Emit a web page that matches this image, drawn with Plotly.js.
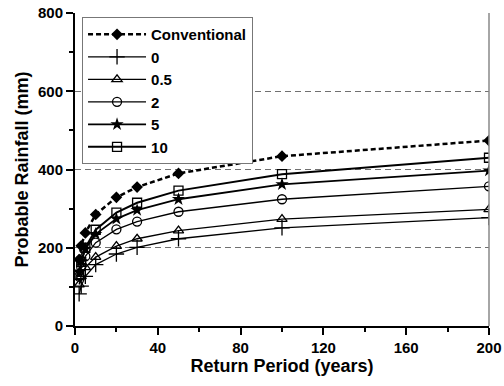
<!DOCTYPE html>
<html>
<head>
<meta charset="utf-8">
<script src="https://cdn.plot.ly/plotly-3.0.1.min.js"></script>
<style>
  html, body { margin: 0; padding: 0; background: #fff; }
  #chart { width: 504px; height: 386px; }
</style>
</head>
<body>
<div id="chart"></div>
<script>
// Return periods (years) at which probable rainfall was computed
const returnPeriods = [2, 3, 5, 10, 20, 30, 50, 100, 200];

// Probable rainfall (mm) for each series
const seriesNames = ["Conventional", "0", "0.5", "2", "5", "10"];
const conventional = [170, 205, 238, 285, 329, 355, 390, 434, 474];
const s0   = [82, 102, 127, 157, 184, 201, 223, 251, 277];
const s05  = [106, 127, 150, 176, 204, 223, 244, 273, 298];
const s2   = [126, 151, 178, 213, 247, 267, 292, 324, 357];
const s5   = [137, 165, 197, 235, 274, 296, 324, 362, 397];
const s10  = [131, 164, 200, 246, 290, 315, 346, 388, 430];

const yTicks = [0, 200, 400, 600, 800];
const xTicks = [0, 40, 80, 120, 160, 200];

const font = "Liberation Sans, Arial, sans-serif";

function series(name, y, symbol, opts) {
  return {
    x: returnPeriods,
    y: y,
    name: name,
    type: "scatter",
    mode: "lines+markers",
    line: Object.assign({ color: "#000", width: 1.3 }, opts.line || {}),
    marker: Object.assign({
      symbol: symbol,
      size: 9,
      color: "#000",
      line: { color: "#000", width: 1.3 }
    }, opts.marker || {})
  };
}

const traces = [
  series(seriesNames[0], conventional, "diamond",
    { line: { width: 2.5, dash: "5px,3px" }, marker: { size: 9, line: { width: 0 } } }),
  series(seriesNames[1], s0, "cross-thin-open", { marker: { size: 11 } }),
  series(seriesNames[2], s05, "triangle-up-open", { marker: { size: 9 } }),
  series(seriesNames[3], s2, "circle-open", { marker: { size: 9 } }),
  series(seriesNames[4], s5, "star", { line: { width: 1.8 }, marker: { size: 10, line: { width: 0 } } }),
  series(seriesNames[5], s10, "square-open", { line: { width: 2 }, marker: { size: 9 } })
];

const layout = {
  width: 504,
  height: 386,
  margin: { l: 75, r: 15, t: 13, b: 60 },
  paper_bgcolor: "#fff",
  plot_bgcolor: "#fff",
  font: { family: font, color: "#000", size: 15, weight: "bold" },
  showlegend: true,
  legend: {
    x: 0.017, y: 0.987, xanchor: "left", yanchor: "top",
    bgcolor: "#fff",
    bordercolor: "#777",
    borderwidth: 1,
    font: { family: font, size: 15, weight: "bold", color: "#000" },
    tracegroupgap: 0,
    itemwidth: 58
  },
  xaxis: {
    range: [0, 200],
    tickvals: xTicks,
    ticktext: xTicks.map(String),
    ticks: "outside",
    ticklen: 7,
    tickwidth: 2,
    tickcolor: "#000",
    minor: { dtick: 20, tick0: 0, ticks: "outside", ticklen: 4, tickwidth: 2, tickcolor: "#000" },
    showline: true,
    linecolor: "#000",
    linewidth: 2,
    showgrid: false,
    zeroline: false,
    tickfont: { family: font, size: 15, weight: "bold" },
    title: { text: "Return Period (years)", font: { family: font, size: 18, weight: "bold" }, standoff: 4 }
  },
  yaxis: {
    range: [0, 800],
    tickvals: yTicks,
    ticktext: yTicks.map(String),
    ticks: "outside",
    ticklen: 7,
    tickwidth: 2,
    tickcolor: "#000",
    minor: { dtick: 100, tick0: 0, ticks: "outside", ticklen: 4, tickwidth: 2, tickcolor: "#000" },
    showline: true,
    linecolor: "#000",
    linewidth: 2,
    showgrid: true,
    gridcolor: "#707070",
    gridwidth: 1,
    griddash: "6px,4px",
    zeroline: false,
    tickfont: { family: font, size: 15, weight: "bold" },
    title: { text: "Probable Rainfall (mm)", font: { family: font, size: 18, weight: "bold" }, standoff: 5 }
  },
  shapes: [
    { type: "line", xref: "paper", yref: "paper", x0: 1, x1: 1, y0: 0, y1: 1,
      line: { color: "#888", width: 1.5 } }
  ]
};

Plotly.newPlot("chart", traces, layout, { displayModeBar: false, staticPlot: true });
</script>
</body>
</html>
